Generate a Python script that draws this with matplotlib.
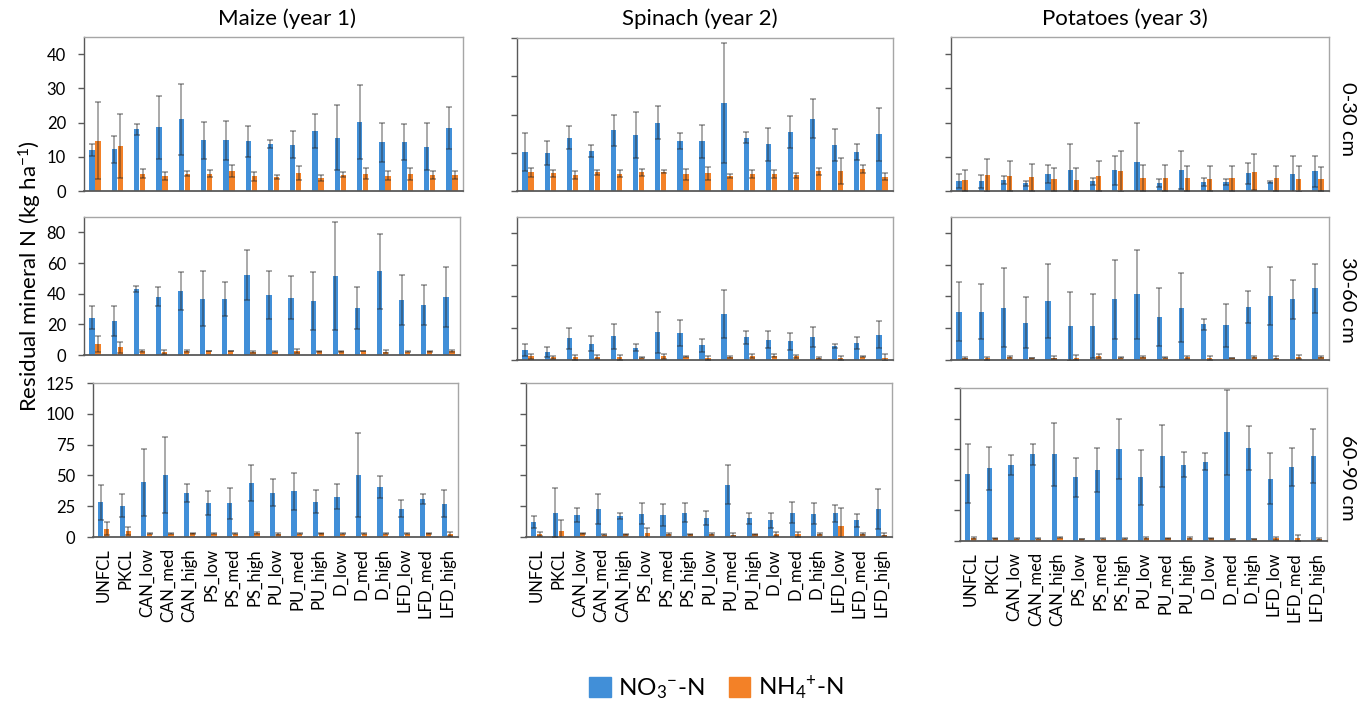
import matplotlib
matplotlib.use('Agg')
import matplotlib.pyplot as plt
from matplotlib.patches import Patch
import numpy as np

plt.rcParams['font.family'] = ['Lato', 'DejaVu Sans']
plt.rcParams['mathtext.fontset'] = 'custom'
plt.rcParams['mathtext.rm'] = 'Lato'
plt.rcParams['mathtext.default'] = 'regular'

categories = ['UNFCL', 'PKCL', 'CAN_low', 'CAN_med', 'CAN_high', 'PS_low', 'PS_med',
              'PS_high', 'PU_low', 'PU_med', 'PU_high', 'D_low', 'D_med', 'D_high',
              'LFD_low', 'LFD_med', 'LFD_high']
crops = ['Maize (year 1)', 'Spinach (year 2)', 'Potatoes (year 3)']
depths = ['0-30 cm', '30-60 cm', '60-90 cm']

# ---- Maize (year 1) ----
maize_0_30_no3 = [11.9, 12.2, 18.0, 18.6, 20.9, 14.8, 14.8, 14.5, 13.7, 13.5, 17.5, 15.6, 20.1, 14.2, 14.3, 13.0, 18.3]
maize_0_30_no3_sd = [1.7, 4.0, 1.5, 9.3, 10.3, 5.5, 5.7, 4.6, 1.2, 4.0, 5.0, 9.6, 10.8, 5.7, 5.2, 7.0, 6.1]
maize_0_30_nh4 = [14.7, 13.2, 5.1, 4.4, 5.1, 5.1, 5.8, 4.3, 4.1, 5.2, 3.8, 4.8, 5.1, 4.5, 5.0, 4.6, 4.6]
maize_0_30_nh4_sd = [11.2, 9.4, 1.3, 1.2, 0.7, 0.9, 1.7, 1.3, 0.7, 2.0, 1.0, 0.7, 1.7, 1.2, 1.7, 1.1, 1.1]

maize_30_60_no3 = [24.3, 22.0, 42.8, 38.0, 41.7, 36.7, 36.7, 52.0, 39.1, 37.4, 35.2, 51.5, 30.7, 54.6, 35.7, 32.6, 38.0]
maize_30_60_no3_sd = [7.4, 9.8, 2.0, 6.1, 12.4, 17.8, 11.1, 16.3, 15.9, 13.9, 18.9, 35.2, 13.6, 24.3, 16.3, 12.8, 19.6]
maize_30_60_nh4 = [7.0, 5.0, 2.6, 2.0, 2.4, 2.6, 2.6, 2.0, 2.2, 2.8, 2.4, 2.4, 2.6, 2.2, 2.2, 2.4, 2.6]
maize_30_60_nh4_sd = [5.2, 3.5, 0.4, 1.3, 0.6, 0.3, 0.3, 0.6, 0.4, 1.3, 0.3, 0.3, 0.3, 0.8, 0.3, 0.4, 0.9]

maize_60_90_no3 = [28.3, 25.5, 44.3, 50.3, 35.9, 27.7, 27.2, 43.8, 36.1, 37.0, 28.5, 32.6, 50.5, 40.5, 23.1, 31.0, 26.9]
maize_60_90_no3_sd = [14.1, 9.6, 26.9, 30.7, 7.3, 9.8, 12.2, 14.4, 10.6, 14.9, 9.3, 10.1, 34.0, 9.2, 7.1, 4.3, 10.9]
maize_60_90_nh4 = [6.8, 4.9, 2.7, 2.7, 3.0, 2.7, 2.7, 3.3, 2.4, 2.7, 3.0, 2.7, 2.7, 2.7, 2.7, 3.0, 2.7]
maize_60_90_nh4_sd = [5.2, 3.5, 0.5, 0.5, 0.4, 0.4, 0.4, 0.8, 0.5, 0.4, 0.5, 0.4, 0.4, 0.4, 0.4, 0.3, 1.6]

# ---- Spinach (year 2) ----
spinach_0_30_no3 = [10.2, 9.9, 13.9, 10.4, 15.9, 14.6, 17.9, 13.1, 13.0, 22.9, 13.9, 12.2, 15.4, 18.9, 12.0, 10.2, 14.8]
spinach_0_30_no3_sd = [4.9, 3.1, 3.0, 1.6, 4.1, 6.0, 4.3, 2.1, 4.3, 15.7, 1.4, 4.3, 4.2, 5.1, 4.2, 2.2, 6.9]
spinach_0_30_nh4 = [4.9, 4.6, 4.2, 4.9, 4.5, 4.9, 5.0, 4.4, 4.6, 3.9, 4.5, 4.4, 4.1, 5.1, 5.1, 5.8, 3.7]
spinach_0_30_nh4_sd = [1.2, 1.0, 1.1, 0.7, 0.9, 0.9, 0.4, 1.4, 1.8, 0.6, 1.0, 1.1, 0.7, 0.9, 3.4, 1.1, 0.9]

spinach_30_60_no3 = [6.5, 5.2, 13.6, 10.3, 14.9, 7.8, 17.4, 17.2, 9.2, 29.2, 14.3, 12.8, 11.8, 14.3, 8.6, 10.5, 16.0]
spinach_30_60_no3_sd = [3.8, 3.0, 6.5, 4.6, 7.8, 2.3, 12.8, 8.2, 4.0, 15.1, 4.0, 5.5, 5.2, 6.3, 1.3, 3.8, 8.6]
spinach_30_60_nh4 = [2.3, 1.7, 1.7, 1.9, 1.7, 1.3, 2.3, 2.1, 1.0, 1.9, 2.5, 2.7, 2.3, 1.3, 1.5, 2.1, 1.5]
spinach_30_60_nh4_sd = [1.5, 1.0, 1.5, 1.3, 1.4, 0.3, 1.5, 0.3, 1.3, 0.8, 1.3, 1.1, 0.8, 0.6, 1.3, 0.4, 2.1]

spinach_60_90_no3 = [12.0, 19.6, 18.2, 23.1, 17.4, 18.8, 17.7, 19.8, 15.2, 42.4, 15.2, 13.6, 19.8, 18.8, 19.3, 13.6, 22.6]
spinach_60_90_no3_sd = [5.1, 19.8, 5.7, 12.2, 2.4, 8.4, 8.7, 7.9, 5.5, 15.8, 4.6, 6.2, 8.5, 8.6, 6.8, 5.4, 16.5]
spinach_60_90_nh4 = [2.4, 4.6, 3.0, 1.9, 2.2, 3.0, 2.4, 2.2, 2.4, 1.9, 2.2, 2.4, 2.2, 2.4, 9.0, 2.4, 1.9]
spinach_60_90_nh4_sd = [1.4, 9.5, 0.5, 0.3, 0.4, 4.6, 0.8, 0.3, 0.8, 1.3, 0.6, 1.9, 2.1, 1.1, 14.9, 1.1, 1.4]

# ---- Potatoes (year 3) ----
potato_0_30_no3 = [2.9, 2.8, 3.2, 2.3, 5.0, 6.0, 2.8, 6.0, 8.6, 2.4, 6.1, 2.7, 2.7, 5.2, 2.6, 4.9, 5.7]
potato_0_30_no3_sd = [2.0, 1.9, 1.2, 0.7, 2.7, 7.6, 1.0, 4.3, 11.4, 1.2, 5.6, 1.2, 0.9, 3.1, 0.3, 5.4, 4.6]
potato_0_30_nh4 = [3.1, 4.6, 4.4, 4.0, 3.4, 3.3, 4.4, 5.8, 3.8, 3.8, 3.7, 3.6, 3.7, 5.5, 3.7, 3.5, 3.5]
potato_0_30_nh4_sd = [3.1, 4.8, 4.3, 4.0, 3.4, 3.3, 4.5, 6.0, 3.9, 3.7, 3.7, 3.7, 3.7, 5.3, 3.6, 3.7, 3.6]

potato_30_60_no3 = [30.4, 30.4, 32.9, 23.5, 36.9, 21.2, 21.4, 38.2, 41.3, 26.9, 32.9, 22.5, 21.8, 33.4, 40.5, 38.2, 45.1]
potato_30_60_no3_sd = [18.5, 17.4, 24.8, 16.2, 23.3, 21.6, 20.2, 24.8, 28.2, 18.4, 21.7, 3.5, 13.7, 10.0, 18.3, 12.2, 15.3]
potato_30_60_nh4 = [1.3, 1.0, 1.9, 1.3, 1.5, 1.5, 2.5, 1.3, 1.9, 1.5, 1.7, 1.3, 1.3, 1.7, 1.5, 2.1, 1.9]
potato_30_60_nh4_sd = [0.6, 0.8, 0.4, 0.2, 1.0, 1.6, 1.3, 0.3, 0.4, 0.4, 0.8, 1.4, 0.2, 0.6, 0.8, 1.3, 0.8]

potato_60_90_no3 = [55.1, 59.5, 62.0, 70.7, 70.7, 51.9, 58.1, 75.1, 51.9, 69.3, 62.5, 64.7, 88.7, 76.1, 50.8, 60.6, 69.3]
potato_60_90_no3_sd = [23.8, 17.7, 8.1, 8.2, 25.9, 15.8, 18.0, 24.5, 22.6, 25.4, 10.4, 7.1, 34.4, 18.0, 20.7, 15.5, 22.1]
potato_60_90_nh4 = [2.5, 2.2, 1.9, 1.9, 2.7, 1.6, 1.9, 1.9, 2.5, 2.2, 2.5, 2.2, 1.6, 1.6, 2.2, 2.5, 1.9]
potato_60_90_nh4_sd = [0.6, 0.5, 0.3, 0.3, 0.6, 0.3, 0.3, 0.3, 1.0, 0.4, 1.0, 0.4, 0.3, 0.3, 1.0, 2.4, 0.8]

panels = [
    [(maize_0_30_no3, maize_0_30_no3_sd, maize_0_30_nh4, maize_0_30_nh4_sd),
     (spinach_0_30_no3, spinach_0_30_no3_sd, spinach_0_30_nh4, spinach_0_30_nh4_sd),
     (potato_0_30_no3, potato_0_30_no3_sd, potato_0_30_nh4, potato_0_30_nh4_sd)],
    [(maize_30_60_no3, maize_30_60_no3_sd, maize_30_60_nh4, maize_30_60_nh4_sd),
     (spinach_30_60_no3, spinach_30_60_no3_sd, spinach_30_60_nh4, spinach_30_60_nh4_sd),
     (potato_30_60_no3, potato_30_60_no3_sd, potato_30_60_nh4, potato_30_60_nh4_sd)],
    [(maize_60_90_no3, maize_60_90_no3_sd, maize_60_90_nh4, maize_60_90_nh4_sd),
     (spinach_60_90_no3, spinach_60_90_no3_sd, spinach_60_90_nh4, spinach_60_90_nh4_sd),
     (potato_60_90_no3, potato_60_90_no3_sd, potato_60_90_nh4, potato_60_90_nh4_sd)],
]

ylims = [[45, 40, 45], [90, 90, 90], [125, 125, 125]]
yticks = [[0, 10, 20, 30, 40], [0, 20, 40, 60, 80], [0, 25, 50, 75, 100, 125]]

# pixel boxes (x0, y0, x1, y1)
boxes = [
    [(84, 37, 463, 191), (517, 38, 893, 191), (951, 37, 1329, 191)],
    [(84, 217, 460, 355), (517, 217, 893, 360), (951, 217, 1329, 360)],
    [(93, 383, 458, 537), (526, 383, 892, 537), (960, 388, 1327, 541)],
]

W, H = 1359, 703
BLUE = '#418FD8'
ORANGE = '#F38127'
ECOL = (0.15, 0.15, 0.15, 0.5)

fig = plt.figure(figsize=(W / 100, H / 100), dpi=100)


def box(b):
    x0, y0, x1, y1 = b
    return [x0 / W, 1 - y1 / H, (x1 - x0) / W, (y1 - y0) / H]


x = np.arange(len(categories))
bw = 0.24
off = 0.135
for r in range(3):
    for c in range(3):
        ax = fig.add_axes(box(boxes[r][c]))
        no3, no3sd, nh4, nh4sd = panels[r][c]
        ax.bar(x - off, no3, bw, color=BLUE, zorder=2)
        ax.bar(x + off, nh4, bw, color=ORANGE, zorder=2)
        ax.errorbar(x - off, no3, yerr=no3sd, fmt='none', ecolor=ECOL,
                    elinewidth=1.1, capsize=2, capthick=1.1, zorder=3)
        ax.errorbar(x + off, nh4, yerr=nh4sd, fmt='none', ecolor=ECOL,
                    elinewidth=1.1, capsize=2, capthick=1.1, zorder=3)
        ax.set_xlim(-0.5, len(categories) - 0.5)
        ax.set_ylim(0, ylims[r][c])
        ax.set_yticks(yticks[r])
        ax.tick_params(axis='y', direction='out', length=4, width=1,
                       color='#595959', labelsize=12, pad=9)
        if c != 0:
            ax.set_yticklabels([])
        ax.set_xticks(x)
        if r == 2:
            ax.set_xticklabels(categories, rotation=90, fontsize=12)
            ax.tick_params(axis='x', length=0, pad=8)
        else:
            ax.set_xticklabels([])
            ax.tick_params(axis='x', length=0)
        for s in ['top', 'right']:
            ax.spines[s].set_color('#a6a6a6')
            ax.spines[s].set_linewidth(1)
        ax.spines['left'].set_color('#595959')
        ax.spines['left'].set_linewidth(1)
        ax.spines['bottom'].set_color('#595959')
        ax.spines['bottom'].set_linewidth(1.3)

# column titles
for txt, xc in zip(crops, [287, 700, 1125]):
    fig.text(xc / W, 1 - 19 / H, txt, ha='center', va='center', fontsize=16)

# row labels
for txt, yc in zip(depths, [119, 300, 478]):
    fig.text(1348 / W, 1 - yc / H, txt, ha='center', va='center', fontsize=14.5,
             rotation=-90)

fig.text(30 / W, 1 - 276 / H, r'Residual mineral N (kg ha$^{-1}$)', ha='center',
         va='center', rotation=90, fontsize=16)

handles = [Patch(color=BLUE, label=r'NO$_3$$^{-}$-N'),
           Patch(color=ORANGE, label=r'NH$_4$$^{+}$-N')]
fig.legend(handles=handles, loc='center', bbox_to_anchor=(716 / W, 1 - 688 / H),
           ncol=2, frameon=False, fontsize=17.5, handlelength=0.9, handleheight=0.9,
           handletextpad=0.3, columnspacing=1.0)

fig.savefig('out.png', dpi=100)
